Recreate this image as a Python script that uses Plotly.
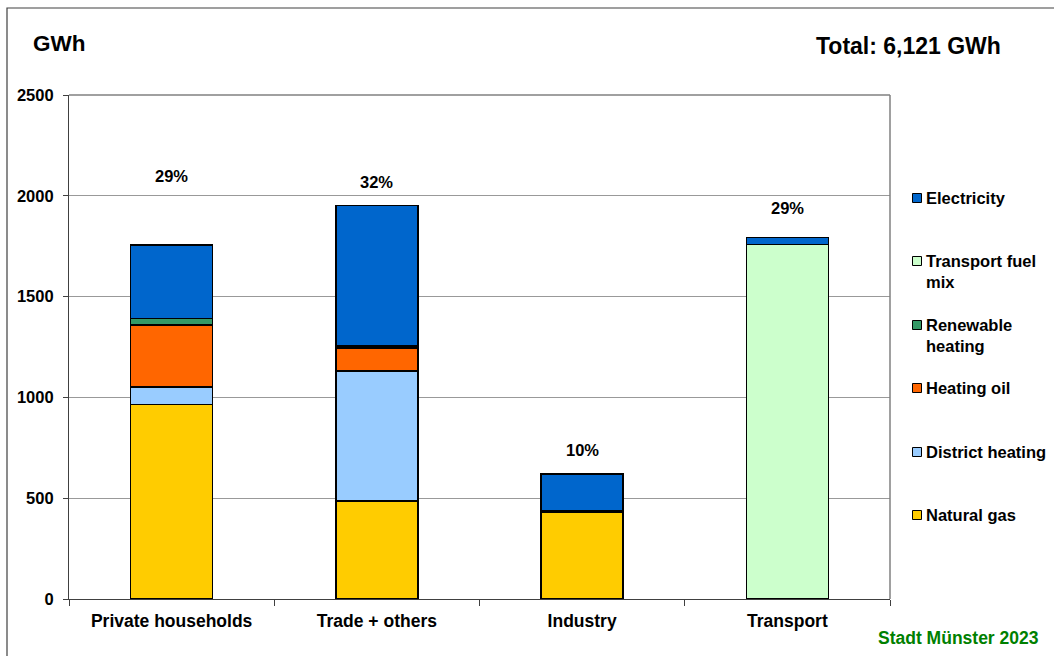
import plotly.graph_objects as go

# Final energy consumption by sector (GWh)
sectors = ["Private households", "Trade + others", "Industry", "Transport"]

natural_gas = [964, 485, 432, 0]
district_heating = [87, 646, 0, 0]
heating_oil = [309, 113, 4, 0]
renewable_heating = [31, 10, 0, 0]
transport_fuel_mix = [0, 0, 0, 1758]
electricity = [364, 698, 184, 36]

series = [
    ("Natural gas", natural_gas, "#FFCC00"),
    ("District heating", district_heating, "#99CCFF"),
    ("Heating oil", heating_oil, "#FF6600"),
    ("Renewable<br>heating", renewable_heating, "#339966"),
    ("Transport fuel<br>mix", transport_fuel_mix, "#CCFFCC"),
    ("Electricity", electricity, "#0066CC"),
]

totals = [sum(vals) for vals in zip(*[s[1] for s in series])]
grand_total = sum(totals)
shares = [round(t / grand_total * 100) for t in totals]

FONT = "Liberation Sans, Arial, sans-serif"
W, H = 1054, 656
L, R, T, B = 69, 164, 95, 57
PW, PH = W - L - R, H - T - B


def px(x):
    return (x - L) / PW


def py(y):
    return (H - B - y) / PH


fig = go.Figure()
for name, vals, color in series:
    fig.add_trace(go.Bar(
        x=sectors, y=vals, name=name.replace("<br>", " "),
        marker=dict(color=color, line=dict(color="#000000", width=1.5)),
        showlegend=False,
    ))

annotations = []

# Share labels above each column
label_shift = [58, 12, 13, 18]
for s, t, p, dy in zip(sectors, totals, shares, label_shift):
    annotations.append(dict(
        x=s, y=t, xref="x", yref="y", text=f"{p}%", showarrow=False,
        yanchor="bottom", yshift=dy,
        font=dict(family=FONT, size=16.5, color="#000000", weight="bold"),
    ))

# Hand-placed legend, top to bottom
legend_rows = [198, 261, 325, 388, 452, 515]
for (name, vals, color), yc in zip(reversed(series), legend_rows):
    fig.add_shape(type="rect", xref="paper", yref="paper",
                  x0=px(912.5), x1=px(921.5), y0=py(yc + 4.5), y1=py(yc - 4.5),
                  fillcolor=color, line=dict(color="#000000", width=1))
    annotations.append(dict(
        x=px(924), y=py(yc - 11), xref="paper", yref="paper", text=name,
        showarrow=False, xanchor="left", yanchor="top", align="left",
        font=dict(family=FONT, size=16.5, color="#000000", weight="bold"),
    ))

annotations += [
    dict(x=px(31), y=py(44), xref="paper", yref="paper", text="GWh",
         showarrow=False, xanchor="left", yanchor="middle",
         font=dict(family=FONT, size=22.5, color="#000000", weight="bold")),
    dict(x=px(1003), y=py(46), xref="paper", yref="paper",
         text=f"Total: {grand_total:,} GWh",
         showarrow=False, xanchor="right", yanchor="middle",
         font=dict(family=FONT, size=23, color="#000000", weight="bold")),
    dict(x=px(1041), y=py(638), xref="paper", yref="paper",
         text="Stadt Münster 2023",
         showarrow=False, xanchor="right", yanchor="middle",
         font=dict(family=FONT, size=17.5, color="#008000", weight="bold")),
]

# Top and right edges of the plot box, then the outer frame
fig.add_shape(type="line", xref="paper", yref="paper", x0=0, x1=1, y0=1, y1=1,
              line=dict(color="#808080", width=1.5))
fig.add_shape(type="line", xref="paper", yref="paper", x0=1, x1=1, y0=0, y1=1,
              line=dict(color="#808080", width=1.5))
fig.add_shape(type="rect", xref="paper", yref="paper",
              x0=px(7), x1=px(1080), y0=py(680), y1=py(8),
              line=dict(color="#404040", width=1.2), fillcolor="rgba(0,0,0,0)")

fig.update_layout(
    width=W, height=H,
    margin=dict(l=L, r=R, t=T, b=B, pad=0),
    barmode="stack", bargap=0.6,
    paper_bgcolor="#FFFFFF", plot_bgcolor="#FFFFFF",
    annotations=annotations,
    xaxis=dict(
        tickson="boundaries", ticks="outside", ticklen=6, tickcolor="#404040",
        showline=True, linecolor="#404040", linewidth=1.2,
        ticklabelstandoff=6,
        tickfont=dict(family=FONT, size=17.5, color="#000000", weight="bold"),
        showgrid=False,
    ),
    yaxis=dict(
        range=[0, 2500], tickvals=[0, 500, 1000, 1500, 2000, 2500],
        ticks="outside", ticklen=5, tickcolor="#404040",
        showline=True, linecolor="#404040", linewidth=1.2,
        showgrid=True, gridcolor="#999999", gridwidth=1.2,
        zeroline=False, ticklabelstandoff=6,
        tickfont=dict(family=FONT, size=16.5, color="#000000", weight="bold"),
    ),
)

fig.write_html("out.html")
